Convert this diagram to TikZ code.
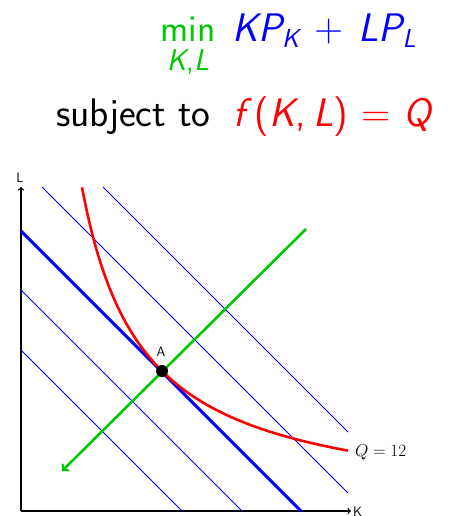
\documentclass[tikz,border=0pt]{standalone}
\definecolor{mygreen}{RGB}{0,200,0}
\definecolor{myblue}{RGB}{0,0,255}
\definecolor{myred}{RGB}{255,0,0}
\newcommand{\sfsub}[1]{\raisebox{-6bp}{\fontsize{26}{28}\selectfont\slshape #1}}
\newcommand{\sv}[1]{{\slshape #1}}
\tikzset{
  axisline/.style={draw=black, line width=1.3bp, ->},
  thinbudget/.style={draw=myblue, line width=0.8bp},
  thickbudget/.style={draw=myblue, line width=3bp},
  isoquant/.style={draw=myred, line width=2.6bp},
  expansion/.style={draw=mygreen, line width=2.6bp, ->},
  smalllabel/.style={font=\sffamily\fontsize{13.5}{15}\selectfont, inner sep=0pt},
  titletext/.style={font=\sffamily\fontsize{40}{44}\selectfont, inner sep=0pt},
  mintext/.style={font=\sffamily\fontsize{38}{42}\selectfont, inner sep=0pt},
  limittext/.style={font=\sffamily\fontsize{30}{34}\selectfont, inner sep=0pt}
}
\begin{document}
\begin{tikzpicture}[x=1bp,y=-1bp]
\useasboundingbox (0,0) rectangle (451,516);
% title line 1
\node[mintext, text=mygreen, anchor=base] (tmin) at (188,42) {min};
\node[limittext, text=mygreen, anchor=base] (tkl) at (188,71) {\sv{K},\sv{L}};
\node[titletext, text=myblue, anchor=base west] (tobj) at (232,42)
  {\sv{K}\sv{P}\sfsub{K}\hspace{0.38em}+\hspace{0.38em}\sv{L}\sv{P}\sfsub{L}};
% title line 2
\node[titletext, anchor=base west] (tsub) at (56,127) {subject to};
\node[titletext, text=myred, anchor=base west] (tcon) at (233,127)
  {\sv{f}\hspace{0.25em}(\sv{K},\hspace{0.2em}\sv{L})\hspace{0.33em}=\hspace{0.33em}\sv{Q}};
% axes
\coordinate (O) at (21,511);
\coordinate (Ltop) at (21,187);
\coordinate (Kend) at (351,511);
\draw[axisline] (O) -- (Ltop);
\draw[axisline] (O) -- (Kend);
\node[smalllabel] (Llab) at (20,178) {L};
\node[smalllabel, anchor=west] (Klab) at (353,512) {K};
% budget lines
\coordinate (a1) at (103,187); \coordinate (a2) at (348,432);
\coordinate (b1) at (42,187);  \coordinate (b2) at (348,493);
\coordinate (c1) at (21,290);  \coordinate (c2) at (242,511);
\coordinate (d1) at (21,350);  \coordinate (d2) at (182,511);
\coordinate (e1) at (21,231);  \coordinate (e2) at (301,511);
\draw[thinbudget] (a1) -- (a2);
\draw[thinbudget] (b1) -- (b2);
\draw[thinbudget] (c1) -- (c2);
\draw[thinbudget] (d1) -- (d2);
\draw[thickbudget] (e1) -- (e2);
% isoquant
\draw[isoquant] plot[domain=61:327, samples=120, smooth] ({21+\x},{511-141*(140/\x)});
\node[font=\fontsize{16}{18}\selectfont, anchor=west, inner sep=0pt] (Qlab) at (355,452) {$Q=12$};
% expansion path
\coordinate (g1) at (306,229);
\coordinate (g2) at (62,471);
\draw[expansion] (g1) -- (g2);
% point A
\node[circle, fill=black, minimum size=12bp, inner sep=0pt] (A) at (162,371) {};
\node[smalllabel] (Alab) at (161,352) {A};
\end{tikzpicture}
\end{document}
